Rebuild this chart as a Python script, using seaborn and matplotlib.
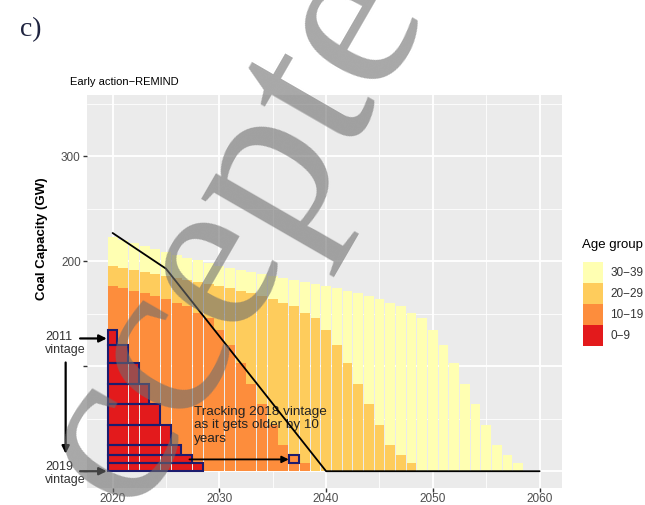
import pandas as pd
import seaborn as sns
import matplotlib.pyplot as plt
from matplotlib.patches import Rectangle, Patch

# capacity added in each vintage year (GW)
vintages = list(range(1981, 2020))
vintage_gw = [3, 2.5, 3, 2.5, 3, 2.5, 3, 2.5, 2.5, 2.5,
              2, 2, 2, 2, 2, 2, 2, 2, 1.5, 2,
              1.5, 3.5, 1.5, 3, 3, 4, 3, 6, 5, 11,
              15, 17, 20, 19, 20, 19, 10, 7.5, 7.5]
lifetime = 40
years = list(range(2020, 2060))

group_order = ["30−39", "20−29", "10−19", "0−9"]
group_colours = ["#FFFFB2", "#FECC5C", "#FD8D3C", "#E31A1C"]

# phase-out path (black line)
path_years = [2020, 2025, 2040, 2060]
path_gw = [227, 193, 0, 0]

# vintages outlined in the 0-9 block
tracked = list(range(2011, 2020))

rows = []
for yr in years:
    for v, gw in zip(vintages, vintage_gw):
        age = yr - v
        if 0 <= age < lifetime:
            lo = age // 10 * 10
            rows.append({"year": yr, "vintage": v, "gw": gw, "group": f"{lo}−{lo + 9}"})
df = pd.DataFrame(rows)

sns.set_style("darkgrid", {"axes.facecolor": "#EBEBEB", "grid.color": "white"})
plt.rcParams["font.family"] = ["Liberation Sans", "DejaVu Sans"]

fig = plt.figure(figsize=(6.45, 5.05), dpi=100)
ax = fig.add_axes([87 / 645, 1 - 488 / 505, 475 / 645, 393 / 505])
ax.set_axisbelow(True)

sns.histplot(data=df, x="year", weights="gw", hue="group", hue_order=group_order,
             palette=dict(zip(group_order, group_colours)), multiple="stack",
             discrete=True, shrink=0.92, alpha=1, linewidth=0, legend=False, ax=ax)

navy = "#1C1C6E"
base = 0
for v in reversed(tracked):
    gw = vintage_gw[vintages.index(v)]
    ax.add_patch(Rectangle((2019.55, base), v + 9 + 0.45 - 2019.55, gw, fill=False,
                           edgecolor=navy, lw=1.5, zorder=3))
    base += gw

gw18 = vintage_gw[vintages.index(2018)]
gw19 = vintage_gw[vintages.index(2019)]
ax.add_patch(Rectangle((2036.55, gw19), 0.9, gw18, fill=False, edgecolor=navy, lw=1.5, zorder=3))
ax.annotate("", xy=(2036.5, gw19 + gw18 / 2), xytext=(2027.2, gw19 + gw18 / 2),
            arrowprops=dict(arrowstyle="-|>", color="black", lw=1.3, mutation_scale=10,
                            shrinkA=0, shrinkB=0), zorder=4)
ax.text(2027.6, 62, "Tracking 2018 vintage\nas it gets older by 10\nyears",
        fontsize=9.7, color="#222222", va="top", ha="left", linespacing=1.15, zorder=4)

sns.lineplot(x=path_years, y=path_gw, color="black", lw=1.3, ax=ax, zorder=5)

# vintage labels to the left of the panel
ax.text(2013.67, 122, "2011\nvintage", fontsize=9, color="#333333", va="center", ha="left",
        linespacing=1.15)
ax.text(2013.67, -2, "2019\nvintage", fontsize=9, color="#333333", va="center", ha="left",
        linespacing=1.15)
arrow = dict(arrowstyle="-|>", color="black", lw=1.6, mutation_scale=11, shrinkA=0, shrinkB=0)
ax.annotate("", xy=(2019.45, 126.5), xytext=(2016.95, 126.5), arrowprops=arrow, annotation_clip=False)
ax.annotate("", xy=(2019.45, 0), xytext=(2016.95, 0), arrowprops=arrow, annotation_clip=False)
ax.annotate("", xy=(2015.6, 16.7), xytext=(2015.6, 103.6), arrowprops=arrow, annotation_clip=False)

ax.set_xlim(2017.6, 2062.1)
ax.set_ylim(-16, 358.5)
ax.set_xticks([2020, 2030, 2040, 2050, 2060])
ax.set_xticks([2025, 2035, 2045, 2055], minor=True)
ax.set_yticks([0, 100, 200, 300], ["", "", "200", "300"])
ax.set_yticks([50, 150, 250, 350], minor=True)
ax.grid(which="major", color="white", lw=1.3)
ax.grid(which="minor", color="white", lw=0.6)
ax.tick_params(which="major", length=3, width=1, color="#333333", labelcolor="#4D4D4D",
               labelsize=8.5, left=True, bottom=True, pad=0.5)
ax.tick_params(axis="y", pad=1.5)
ax.tick_params(which="minor", length=0)
for s in ax.spines.values():
    s.set_visible(False)
ax.set_xlabel("")
ax.set_ylabel("Coal Capacity (GW)", fontsize=9.5, color="black", weight="bold")
ax.yaxis.set_label_coords(-0.082, 0.635)

fig.text(70 / 645, 1 - 82 / 505, "Early action−REMIND", fontsize=8, color="black",
         ha="left", va="center")
fig.text(20 / 645, 1 - 30 / 505, "c)", fontsize=20, color="#1F2440",
         family=["Liberation Serif", "DejaVu Serif"], ha="left", va="center")

handles = [Patch(facecolor=c, edgecolor="none") for c in group_colours]
fig.text(582 / 645, 1 - 245 / 505, "Age group", fontsize=9.5, color="black",
         ha="left", va="center")
leg = fig.legend(handles, group_order, loc="upper left",
                 bbox_to_anchor=(583 / 645, 1 - 262 / 505), frameon=False, fontsize=8.5,
                 handlelength=1.7, handleheight=2.36, labelspacing=0,
                 handletextpad=0.6, borderpad=0, borderaxespad=0)
for t in leg.get_texts():
    t.set_color("#333333")

# "Accepted" manuscript watermark
fig.text(223 / 645, 1 - 258 / 505, "Accepted", fontsize=165, rotation=60,
         family=["Liberation Serif", "DejaVu Serif"], color="#6E6E6E", alpha=0.6,
         ha="center", va="center", rotation_mode="anchor")

fig.savefig("out.png", dpi=100)
